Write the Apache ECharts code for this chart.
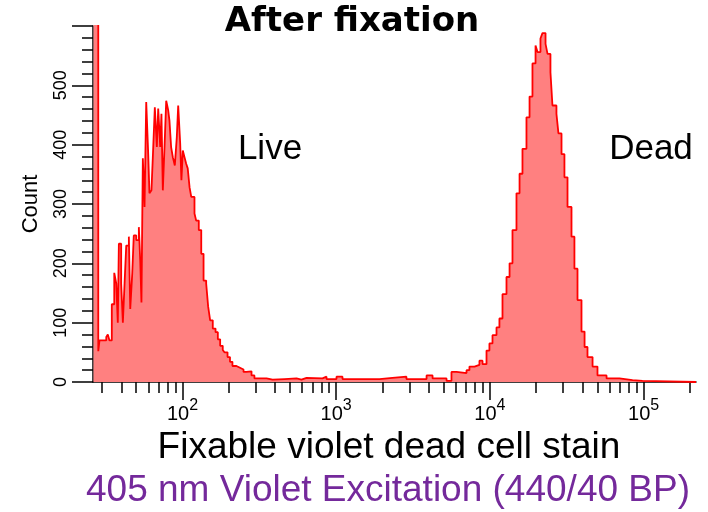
<!DOCTYPE html>
<html><head><meta charset="utf-8">
<script src="https://cdn.jsdelivr.net/npm/echarts@6/dist/echarts.min.js"></script>
<style>html,body{margin:0;padding:0;background:#fff}#c{width:708px;height:512px}</style>
</head><body><div id="c"></div>
<script>
// Histogram bins: left edge of each bin (log10 of fluorescence) and event count
const binLog10 = [1.421,1.452,1.460,1.504,1.514,1.525,1.540,1.556,1.569,1.579,1.586,1.601,1.612,1.623,1.634,1.651,1.660,1.673,1.683,1.699,1.716,1.725,1.733,1.742,1.753,1.764,1.777,1.785,1.798,1.807,1.820,1.833,1.842,1.855,1.863,1.872,1.883,1.894,1.907,1.915,1.926,1.937,1.950,1.963,1.972,1.985,1.993,2.002,2.013,2.024,2.034,2.046,2.057,2.078,2.089,2.106,2.122,2.137,2.154,2.167,2.180,2.197,2.215,2.230,2.245,2.262,2.273,2.293,2.309,2.325,2.351,2.374,2.397,2.416,2.449,2.468,2.547,2.586,2.664,2.742,2.774,2.807,2.911,2.937,3.002,3.041,3.152,3.282,3.366,3.457,3.588,3.627,3.718,3.750,3.783,3.848,3.867,3.900,3.932,3.952,3.978,3.997,4.017,4.043,4.062,4.082,4.108,4.128,4.147,4.173,4.193,4.212,4.238,4.258,4.277,4.297,4.310,4.329,4.342,4.362,4.375,4.394,4.407,4.433,4.446,4.466,4.485,4.505,4.531,4.550,4.570,4.596,4.616,4.635,4.668,4.700,4.759,4.843,4.928,4.993,5.341];
const counts = [2000,52,70,76,80,70,131,184,166,100,233,166,100,166,230,245,123,183,247,239,261,205,134,377,295,472,384,318,323,379,463,396,461,396,452,323,396,474,458,441,396,379,365,413,466,402,340,390,379,368,360,328,312,284,272,256,216,171,166,127,104,90,84,72,61,54,50,42,34,27,24,21,17,18,11,6,4,5,6,4,7,6,9,5,9,5,5,7,9,5,11,6,2,17,15,20,26,29,36,30,53,65,79,92,107,148,177,200,256,318,351,393,446,481,537,567,556,579,588,570,553,522,466,452,419,384,345,295,245,191,138,85,59,42,26,11,6,3,2,0,0];

const majorTicks = [100, 1000, 10000, 100000];
const majorExponents = ['2', '3', '4', '5'];
const minorTicks = [30,40,50,60,70,80,90,200,300,400,500,600,700,800,900,2000,3000,4000,5000,6000,7000,8000,9000,20000,30000,40000,50000,60000,70000,80000,90000,200000];
const yLabels = [0, 100, 200, 300, 400, 500];

const sans = "'Liberation Sans',Arial,sans-serif";

const chart = echarts.init(document.getElementById('c'), null, {renderer: 'canvas'});
const majorLog = majorTicks.map(v => Math.log10(v));
const minorLog = minorTicks.map(v => Math.log10(v));

chart.setOption({
  animation: false,
  backgroundColor: '#fff',
  grid: {left: 93, right: 12, top: 26, bottom: 130, containLabel: false},
  xAxis: [{
    type: 'value', min: 1.4177, max: 5.341, position: 'bottom',
    axisLine: {show: true, onZero: false, lineStyle: {color: '#000', width: 1.5}},
    axisTick: {show: true, length: 18, customValues: majorLog, lineStyle: {color: '#000', width: 1.5}},
    splitLine: {show: false},
    axisLabel: {
      show: true, customValues: majorLog, margin: 16,
      formatter: function (v) {
        const i = majorLog.findIndex(t => Math.abs(t - v) < 1e-6);
        return '{b|10}{s|' + (i >= 0 ? majorExponents[i] : '') + '}';
      },
      rich: {
        b: {fontSize: 20, lineHeight: 26, verticalAlign: 'bottom', fontFamily: sans, color: '#000'},
        s: {fontSize: 16, lineHeight: 26, verticalAlign: 'top', fontFamily: sans, color: '#000'}
      }
    }
  }, {
    type: 'value', min: 1.4177, max: 5.341, position: 'bottom', offset: 0,
    axisLine: {show: false},
    axisTick: {show: true, length: 11, customValues: minorLog, lineStyle: {color: '#000', width: 1.5}},
    axisLabel: {show: false},
    splitLine: {show: false}
  }],
  yAxis: {
    type: 'value', min: 0, max: 600, interval: 100,
    axisLine: {show: true, lineStyle: {color: '#000', width: 1.5}},
    axisTick: {show: true, length: 21, lineStyle: {color: '#000', width: 1.5}},
    minorTick: {show: true, splitNumber: 5, length: 11, lineStyle: {color: '#000', width: 1.5}},
    splitLine: {show: false},
    axisLabel: {
      rotate: 90, margin: 23, fontSize: 18, fontFamily: sans, color: '#000',
      formatter: v => (yLabels.indexOf(v) >= 0 ? String(v) : '')
    },
    name: 'Count', nameLocation: 'middle', nameGap: 51, nameRotate: 90,
    nameTextStyle: {fontSize: 22, fontFamily: sans, color: '#000'}
  },
  series: [{
    type: 'line', step: 'end', symbol: 'none', clip: true,
    xAxisIndex: 0, yAxisIndex: 0,
    data: binLog10.map((x, i) => [x, counts[i]]),
    lineStyle: {color: '#ff0000', width: 1.8},
    areaStyle: {color: '#ff8080', opacity: 1, origin: 'start'}
  }],
  graphic: [
    {type: 'text', x: 352, y: 22.5, style: {text: 'After fixation', fontSize: 34, fontWeight: 'bold', fontFamily: "'DejaVu Sans',sans-serif", fill: '#000', align: 'center', verticalAlign: 'middle'}},
    {type: 'text', x: 270, y: 149, style: {text: 'Live', fontSize: 35, fontFamily: sans, fill: '#000', align: 'center', verticalAlign: 'middle'}},
    {type: 'text', x: 651, y: 149, style: {text: 'Dead', fontSize: 35, fontFamily: sans, fill: '#000', align: 'center', verticalAlign: 'middle'}},
    {type: 'text', x: 389, y: 448, style: {text: 'Fixable violet dead cell stain', fontSize: 37, fontFamily: sans, fill: '#000', align: 'center', verticalAlign: 'middle'}},
    {type: 'text', x: 388, y: 491, style: {text: '405 nm Violet Excitation (440/40 BP)', fontSize: 37, fontFamily: sans, fill: '#74299b', align: 'center', verticalAlign: 'middle'}}
  ]
});
</script></body></html>
